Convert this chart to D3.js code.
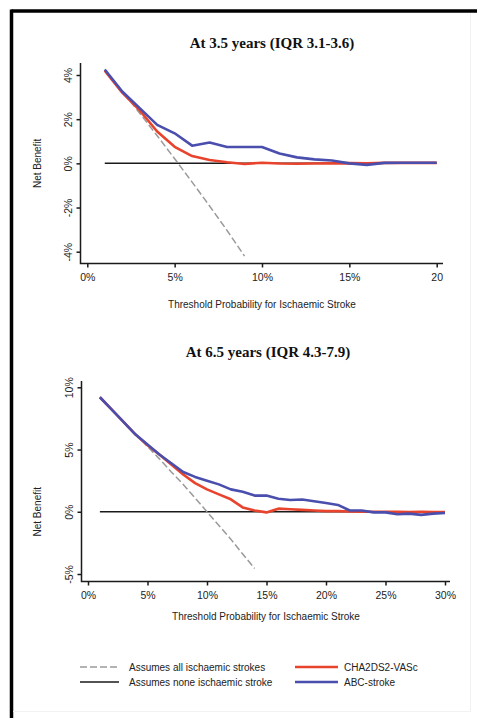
<!DOCTYPE html>
<html>
<head>
<meta charset="utf-8">
<script src="https://cdn.jsdelivr.net/npm/d3@7/dist/d3.min.js"></script>
<style>
  html, body { margin: 0; padding: 0; background: #fff; }
  svg { display: block; }
</style>
</head>
<body>
<svg id="chart" width="477" height="718"></svg>
<script>
// Decision-curve data: threshold probability (%) vs net benefit (%)

// Panel 1: at 3.5 years
const thresholdsA = [1, 2, 3, 4, 5, 6, 7, 8, 9, 10, 11, 12, 13, 14, 15, 16, 17, 18, 19, 20];
const treatAllA   = [4.2, 3.27, 2.27, 1.25, 0.21, -0.85, -1.93, -3.04, -4.2];
const cha2ds2A    = [4.2, 3.2, 2.4, 1.44, 0.75, 0.33, 0.15, 0.05, -0.03, 0.03, -0.01, -0.02, -0.01, 0.0, 0.01, 0.0, 0.02, 0.02, 0.02, 0.02];
const abcStrokeA  = [4.25, 3.25, 2.5, 1.74, 1.36, 0.8, 0.94, 0.74, 0.74, 0.74, 0.45, 0.27, 0.18, 0.13, 0.0, -0.07, 0.02, 0.03, 0.03, 0.03];
const xTicksA     = [0, 5, 10, 15, 20];
const xTickLabelsA = ["0%", "5%", "10%", "15%", "20"];
const yTicksA     = [-4, -2, 0, 2, 4];

// Panel 2: at 6.5 years
const thresholdsB = [1, 2, 3, 4, 5, 6, 7, 8, 9, 10, 11, 12, 13, 14, 15, 16, 17, 18, 19, 20, 21, 22, 23, 24, 25, 26, 27, 28, 29, 30];
const treatAllB   = [9.2, 8.2, 7.2, 6.25, 5.25, 4.25, 3.2, 2.2, 1.1, 0.0, -1.1, -2.2, -3.4, -4.55];
const cha2ds2B    = [9.2, 8.2, 7.2, 6.2, 5.35, 4.6, 3.8, 3.0, 2.3, 1.8, 1.4, 1.0, 0.35, 0.1, -0.05, 0.25, 0.2, 0.15, 0.1, 0.05, 0.05, 0.02, 0.0, 0.0, 0.0, 0.0, -0.02, 0.0, -0.03, -0.02];
const abcStrokeB  = [9.2, 8.2, 7.2, 6.2, 5.4, 4.6, 3.9, 3.2, 2.8, 2.5, 2.2, 1.8, 1.6, 1.3, 1.3, 1.05, 0.95, 0.98, 0.85, 0.7, 0.55, 0.1, 0.1, -0.05, -0.05, -0.2, -0.15, -0.25, -0.15, -0.1];
const xTicksB     = [0, 5, 10, 15, 20, 25, 30];
const xTickLabelsB = ["0%", "5%", "10%", "15%", "20%", "25%", "30%"];
const yTicksB     = [-5, 0, 5, 10];

const legendLabels = ["Assumes all ischaemic strokes", "Assumes none ischaemic stroke", "CHA2DS2-VASc", "ABC-stroke"];

const RED = "#e8432c", BLUE = "#4a4ead", GREY = "#9a9a9a", INK = "#1a1a1a";
const SANS = "Arial, 'Liberation Sans', Helvetica, sans-serif";
const SERIF = "'Times New Roman', 'Liberation Serif', serif";

const svg = d3.select("#chart");

// frame around the figure
svg.append("line").attr("x1", 11.5).attr("x2", 477).attr("y1", 11).attr("y2", 11)
  .attr("stroke", "#000").attr("stroke-width", 3.5);
svg.append("line").attr("x1", 11.5).attr("x2", 11.5).attr("y1", 9.5).attr("y2", 718)
  .attr("stroke", "#000").attr("stroke-width", 3.5);
svg.append("line").attr("x1", 470.5).attr("x2", 470.5).attr("y1", 13).attr("y2", 712)
  .attr("stroke", "#f2f2f2").attr("stroke-width", 1);
svg.append("line").attr("x1", 13).attr("x2", 471).attr("y1", 711.5).attr("y2", 711.5)
  .attr("stroke", "#f2f2f2").attr("stroke-width", 1);

function panel(cfg) {
  const g = svg.append("g");
  const x = d3.scaleLinear().domain(cfg.xDomain).range(cfg.xRange);
  const y = d3.scaleLinear().domain(cfg.yDomain).range(cfg.yRange);

  // title
  g.append("text").attr("x", cfg.titleX).attr("y", cfg.titleY)
    .attr("text-anchor", "middle").attr("font-family", SERIF)
    .attr("font-weight", "bold").attr("font-size", 15).attr("fill", "#111")
    .text(cfg.title);

  // axes
  const xAxis = d3.axisBottom(x).tickValues(cfg.xTicks)
    .tickFormat((d, i) => cfg.xTickLabels[i]).tickSize(4).tickSizeOuter(0).tickPadding(6);
  const gx = g.append("g").attr("transform", `translate(0,${cfg.axisY})`).call(xAxis);
  gx.select(".domain").remove();
  gx.selectAll(".tick line").attr("stroke", INK).attr("stroke-width", 1.5);
  gx.selectAll(".tick text").attr("font-family", SANS).attr("font-size", 10.5).attr("fill", "#222");

  const yAxis = d3.axisLeft(y).tickValues(cfg.yTicks)
    .tickFormat(d => d + "%").tickSize(4).tickSizeOuter(0);
  const gy = g.append("g").attr("transform", `translate(${cfg.axisX},0)`).call(yAxis);
  gy.select(".domain").remove();
  gy.selectAll(".tick line").attr("stroke", INK).attr("stroke-width", 1.5);
  gy.selectAll(".tick text")
    .attr("font-family", SANS).attr("font-size", 10.5).attr("fill", "#222")
    .attr("x", null).attr("dy", null)
    .attr("text-anchor", "middle")
    .attr("transform", "translate(-9,0) rotate(-90)");

  // axis lines
  g.append("path")
    .attr("d", `M${cfg.axisX},${cfg.yTop}V${cfg.axisY}H${cfg.xRight}`)
    .attr("fill", "none").attr("stroke", INK).attr("stroke-width", 1.5);

  // axis titles
  g.append("text")
    .attr("transform", `translate(${cfg.yLabelX},${y(0)}) rotate(-90)`)
    .attr("text-anchor", "middle").attr("font-family", SANS).attr("font-size", 10)
    .attr("fill", "#222").text("Net Benefit");
  g.append("text").attr("x", cfg.xLabelX).attr("y", cfg.xLabelY)
    .attr("text-anchor", "middle").attr("font-family", SANS).attr("font-size", 10)
    .attr("fill", "#222").text("Threshold Probability for Ischaemic Stroke");

  const line = d3.line().x(d => x(d[0])).y(d => y(d[1]));
  const pairs = (vals) => vals.map((v, i) => [cfg.thresholds[i], v]);
  const xs = cfg.thresholds;

  // treat none: zero net benefit across thresholds
  g.append("path").datum(xs.map(t => [t, 0])).attr("d", line)
    .attr("fill", "none").attr("stroke", INK).attr("stroke-width", 1.5);
  // treat all
  g.append("path").datum(pairs(cfg.treatAll)).attr("d", line)
    .attr("fill", "none").attr("stroke", GREY).attr("stroke-width", 1.5)
    .attr("stroke-dasharray", "7,3");
  // models
  g.append("path").datum(pairs(cfg.cha)).attr("d", line)
    .attr("fill", "none").attr("stroke", RED).attr("stroke-width", 2.6)
    .attr("stroke-linejoin", "round");
  g.append("path").datum(pairs(cfg.abc)).attr("d", line)
    .attr("fill", "none").attr("stroke", BLUE).attr("stroke-width", 2.6)
    .attr("stroke-linejoin", "round");
}

panel({
  title: "At 3.5 years (IQR 3.1-3.6)", titleX: 272, titleY: 48,
  xDomain: [0, 20], xRange: [87.3, 436.7],
  yDomain: [-4, 4], yRange: [251.7, 75],
  axisX: 80.5, axisY: 263.5, yTop: 63, xRight: 443,
  xTicks: xTicksA, xTickLabels: xTickLabelsA, yTicks: yTicksA,
  yLabelX: 41, xLabelX: 262, xLabelY: 308,
  thresholds: thresholdsA, treatAll: treatAllA, cha: cha2ds2A, abc: abcStrokeA
});

panel({
  title: "At 6.5 years (IQR 4.3-7.9)", titleX: 268, titleY: 357,
  xDomain: [0, 30], xRange: [88, 445],
  yDomain: [-5, 10], yRange: [574, 387.3],
  axisX: 81.5, axisY: 581.5, yTop: 381, xRight: 450,
  xTicks: xTicksB, xTickLabels: xTickLabelsB, yTicks: yTicksB,
  yLabelX: 41, xLabelX: 266, xLabelY: 620,
  thresholds: thresholdsB, treatAll: treatAllB, cha: cha2ds2B, abc: abcStrokeB
});

// legend
const legend = svg.append("g");
const legendItems = [
  { label: legendLabels[0], color: GREY, dash: "7,3", w: 1.5, x: 80, len: 39, y: 667 },
  { label: legendLabels[1], color: INK, dash: null, w: 1.5, x: 80, len: 39, y: 682 },
  { label: legendLabels[2], color: RED, dash: null, w: 2.6, x: 295, len: 43, y: 667 },
  { label: legendLabels[3], color: BLUE, dash: null, w: 2.6, x: 295, len: 43, y: 682 }
];
legendItems.forEach(it => {
  legend.append("line").attr("x1", it.x).attr("x2", it.x + it.len)
    .attr("y1", it.y).attr("y2", it.y)
    .attr("stroke", it.color).attr("stroke-width", it.w)
    .attr("stroke-dasharray", it.dash);
  legend.append("text").attr("x", it.x + 49).attr("y", it.y + 3.5)
    .attr("font-family", SANS).attr("font-size", 10).attr("fill", "#222")
    .text(it.label);
});
</script>
</body>
</html>
